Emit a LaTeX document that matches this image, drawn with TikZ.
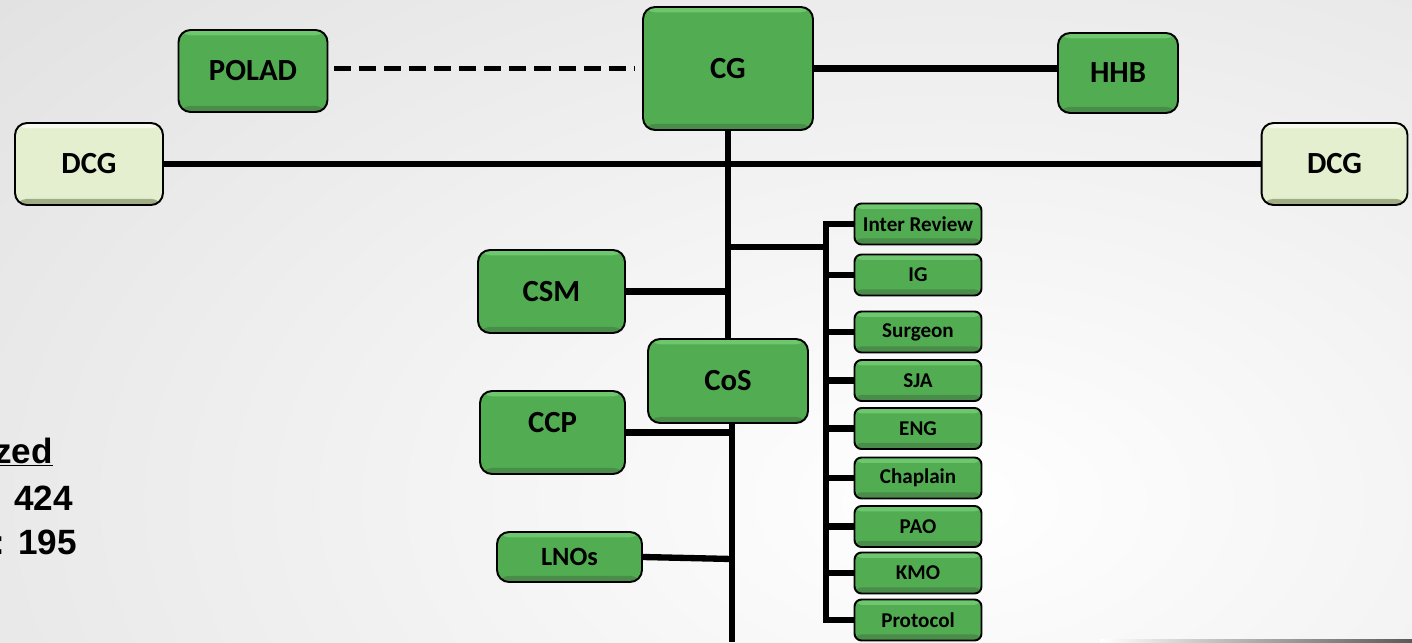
\documentclass[tikz,border=0pt]{standalone}
\usepackage{fontspec}
\newfontfamily\boxfont{Carlito}
\newfontfamily\sumfont{Liberation Sans}
\usetikzlibrary{calc}

\definecolor{gmid}{RGB}{82,173,82}
\definecolor{gtop}{RGB}{110,198,110}
\definecolor{gbot}{RGB}{74,140,74}
\definecolor{pmid}{RGB}{227,239,206}
\definecolor{ptop}{RGB}{245,250,236}
\definecolor{pbot}{RGB}{160,172,132}

\tikzset{
	bevel/.style 2 args={path picture={
		\fill[#1] (path picture bounding box.north west) rectangle ([yshift=-3pt]path picture bounding box.north east);
		\fill[#2] (path picture bounding box.south west) rectangle ([yshift=3.5pt]path picture bounding box.south east);
	}},
	bigbox/.style={draw=black, line width=1.1pt, fill=gmid, bevel={gtop}{gbot}, rounded corners=0.24cm, inner sep=0pt, font=\boxfont\bfseries\fontsize{17.5}{20}\selectfont},
	dcgbox/.style={bigbox, fill=pmid, bevel={ptop}{pbot}},
	smallbox/.style={bigbox, rounded corners=0.14cm, minimum width=2.54cm, minimum height=0.82cm, font=\boxfont\bfseries\fontsize{12}{14}\selectfont},
	bigtext/.style={font=\boxfont\bfseries\fontsize{17.5}{20}\selectfont},
	wire/.style={line width=3.6pt, black},
	sumtext/.style={font=\sumfont\bfseries\fontsize{20}{24}\selectfont, inner sep=0pt, anchor=base east}
}

\begin{document}
\begin{tikzpicture}[x=0.02cm, y=-0.02cm]
			%%%%% START %%%%%
			\useasboundingbox (0, 0) rectangle (1412, 642);
			\clip (0, 0) rectangle (1412, 642);
			\shade[inner color=white, outer color=black!18] (-1050, -700) rectangle (2950, 1700);
			\shade[left color=white, right color=black!65] (1100, 639.5) rectangle (1412, 642);
			
			% top row
			\node[bigbox, minimum width=2.98cm, minimum height=1.64cm] (polad) at (253, 71) {POLAD};
			\node[bigbox, minimum width=3.40cm, minimum height=2.46cm] (cg) at (728, 68.5) {CG};
			\node[bigbox, minimum width=2.40cm, minimum height=1.60cm] (hhb) at (1118, 73) {HHB};
			
			\node[dcgbox, minimum width=2.96cm, minimum height=1.64cm] (dcgl) at (89, 164) {DCG};
			\node[dcgbox, minimum width=2.92cm, minimum height=1.64cm] (dcgr) at (1334.5, 164) {DCG};
			
			% staff
			\node[bigbox, minimum width=2.94cm, minimum height=1.66cm] (csm) at (551.5, 291.5) {CSM};
			\node[bigbox, minimum width=3.20cm, minimum height=1.68cm] (cos) at (728, 381) {CoS};
			\node[bigbox, minimum width=2.90cm, minimum height=1.66cm, label={[bigtext, yshift=5.7pt]center:CCP}] (ccp) at (552.5, 432.5) {};
			\node[bigbox, minimum width=2.90cm, minimum height=1.00cm, font=\boxfont\bfseries\fontsize{15}{18}\selectfont] (lnos) at (569.5, 557) {LNOs};
			
			\node[smallbox] (ir) at (918, 224) {Inter Review};
			\node[smallbox] (ig) at (918, 275) {IG};
			\node[smallbox] (surg) at (918, 332) {Surgeon};
			\node[smallbox] (sja) at (918, 380.5) {SJA};
			\node[smallbox] (eng) at (918, 428.5) {ENG};
			\node[smallbox] (chap) at (918, 478) {Chaplain};
			\node[smallbox] (pao) at (918, 526.5) {PAO};
			\node[smallbox] (kmo) at (918, 573) {KMO};
			\node[smallbox] (prot) at (918, 620) {Protocol};
			
			% numbers on the left
			\node[sumtext] (auth) at (53, 463) {\underline{zed}};
			\node[sumtext] (mil) at (73, 510) {424};
			\node[sumtext] (civ) at (77, 554) {: 195};
			
			% lines
			\coordinate (junc) at (826, 247);
			\coordinate (foot) at (732, 642);
			
			\draw[line width=2.8pt, dash pattern=on 9.6pt off 4.6pt, shorten <=3.4pt, shorten >=3.8pt] (polad.east |- cg.west) -- (cg.west);
			\draw[wire] (cg.east) -- (cg.east -| hhb.west);
			\draw[wire] (dcgl.east) -- (dcgr.west);
			\draw[wire] (cg.south) -- (cos.north);
			\draw[wire] (junc) -- (junc -| cg.south);
			\draw[wire] (csm.east) -- (csm.east -| cg.south);
			\draw[wire] (cos.south -| foot) -- (foot);
			\draw[wire] (ccp.east) -- (ccp.east -| foot);
			\draw[wire] (lnos.east) -- ($(lnos.east -| foot)+(0, 2)$);
			
			\draw[wire, line cap=rect] (ir.west -| junc) -- (prot.west -| junc);
			\draw[wire] (ir.west) -- (ir.west -| junc);
			\draw[wire] (ig.west) -- (ig.west -| junc);
			\draw[wire] (surg.west) -- (surg.west -| junc);
			\draw[wire] (sja.west) -- (sja.west -| junc);
			\draw[wire] (eng.west) -- (eng.west -| junc);
			\draw[wire] (chap.west) -- (chap.west -| junc);
			\draw[wire] (pao.west) -- (pao.west -| junc);
			\draw[wire] (kmo.west) -- (kmo.west -| junc);
			\draw[wire] (prot.west) -- (prot.west -| junc);
			
			%%%%% END %%%%%
\end{tikzpicture}
\end{document}
